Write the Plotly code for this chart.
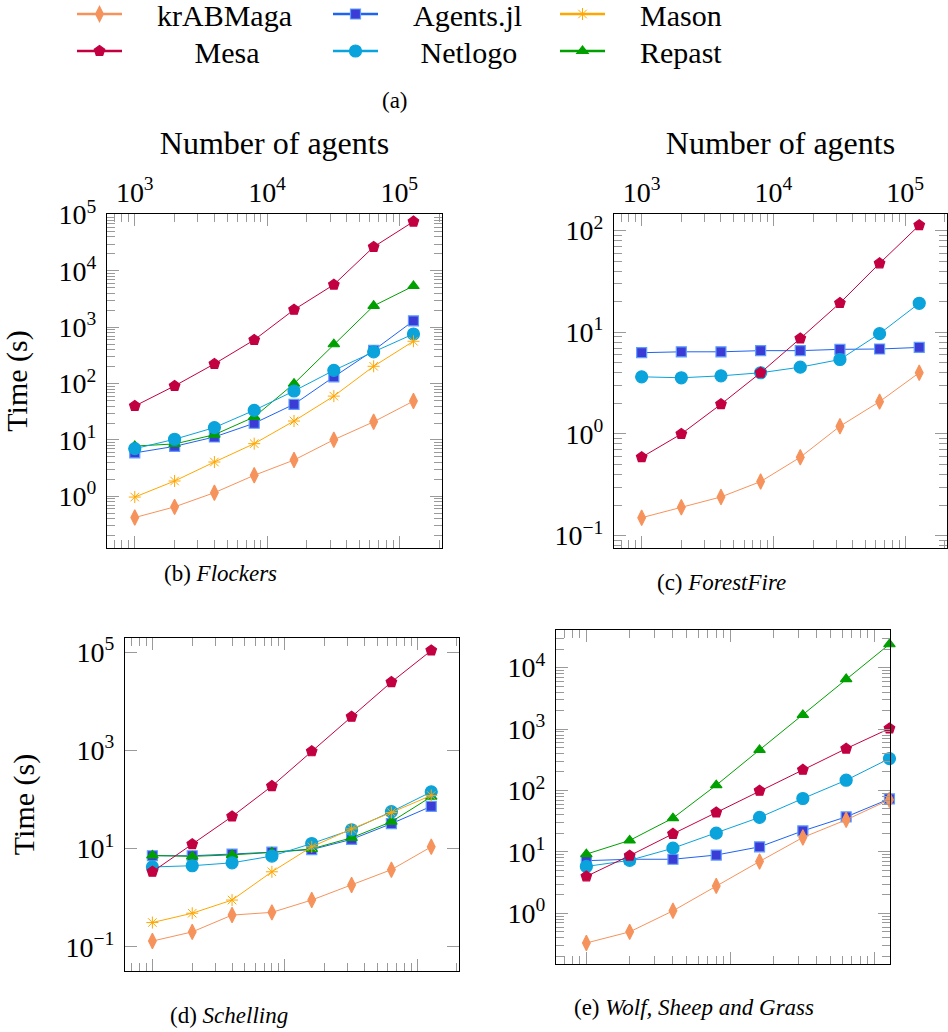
import math
import plotly.graph_objects as go

W, H = 948, 1032
FONT = "Liberation Serif, Times New Roman, serif"

# ---------------- data ----------------
N_AGENTS = [1000, 2000, 4000, 8000, 16000, 32000, 64000, 128000]

FLOCKERS_KRABMAGA = [0.42, 0.65, 1.16, 2.36, 4.4, 10.1, 21, 49]
FLOCKERS_MESA = [40, 91, 224, 596, 2050, 5700, 26700, 75000]
FLOCKERS_AGENTSJL = [5.9, 7.7, 11.3, 19.8, 43, 132, 390, 1300]
FLOCKERS_NETLOGO = [7.0, 10.3, 16.6, 33.6, 74, 172, 366, 760]
FLOCKERS_MASON = [0.97, 1.87, 4.06, 8.6, 21.7, 60, 203, 565]
FLOCKERS_REPAST = [7.8, 8.5, 12.4, 25.6, 100, 500, 2400, 5400]

FOREST_KRABMAGA = [0.15, 0.19, 0.24, 0.34, 0.59, 1.19, 2.08, 4.0]
FOREST_MESA = [0.59, 1.0, 1.96, 4.0, 8.7, 19.4, 47.7, 113]
FOREST_AGENTSJL = [6.3, 6.43, 6.43, 6.6, 6.6, 6.8, 6.85, 7.1]
FOREST_NETLOGO = [3.65, 3.57, 3.73, 4.0, 4.54, 5.4, 9.7, 19.3]

SCHELLING_KRABMAGA = [0.13, 0.20, 0.44, 0.50, 0.89, 1.8, 3.7, 10.8]
SCHELLING_MESA = [3.35, 12.2, 44.7, 186, 950, 4800, 24400, 107000]
SCHELLING_AGENTSJL = [7.1, 7.1, 7.7, 8.4, 9.5, 15.3, 32, 72]
SCHELLING_NETLOGO = [4.2, 4.45, 5.1, 7.0, 12.6, 24, 56, 142]
SCHELLING_MASON = [0.31, 0.48, 0.89, 3.35, 10.8, 25, 54, 120]
SCHELLING_REPAST = [7.2, 6.9, 7.4, 8.3, 9.8, 16.5, 35, 113]

WSG_KRABMAGA = [0.33, 0.50, 1.1, 2.8, 7.0, 17.2, 33.3, 70.6]
WSG_MESA = [4.0, 8.7, 19.7, 43.9, 99, 217, 480, 1020]
WSG_AGENTSJL = [7.2, 7.6, 7.6, 8.9, 12.1, 22, 37.2, 73]
WSG_NETLOGO = [5.8, 7.3, 11.5, 20.2, 36.5, 74, 147, 331]
WSG_REPAST = [9.2, 15.4, 35.5, 122, 458, 1700, 6500, 24000]

X_TICKS = [1e3, 1e4, 1e5]

NB = "\u00a0"
# legend entries: name, label (padded so the text sits centred in its cell), legend id, cell position (px)
LEGEND_ENTRIES = [
    ("krABMaga", NB * 4 + "krABMaga", "legend", 72, 18),
    ("Agents.jl", NB * 4 + "Agents.jl", "legend2", 328, 18),
    ("Mason", NB * 4 + "Mason", "legend3", 555, 18),
    ("Mesa", NB * 9 + "Mesa", "legend4", 72, 55),
    ("Netlogo", NB * 5 + "Netlogo", "legend5", 328, 55),
    ("Repast", NB * 4 + "Repast", "legend6", 555, 55),
]
DRAW_ORDER = ["Agents.jl", "Repast", "Netlogo", "Mason", "Mesa", "krABMaga"]

# ---------------- styles ----------------
STYLE = {
    "krABMaga": dict(color="#F6935C", symbol="diamond-tall", size=11, edge="#F6935C"),
    "Mesa": dict(color="#C20041", symbol="pentagon", size=11, edge="#C20041"),
    "Agents.jl": dict(color="#1F63F2", symbol="square", size=10, fill="#3B3BD6", edge="#5E9EFF"),
    "Netlogo": dict(color="#0AA3DB", symbol="circle", size=12, edge="#0AA3DB"),
    "Mason": dict(color="#FFA700", symbol="asterisk-open", size=10, edge="#FFA700"),
    "Repast": dict(color="#00A000", symbol="triangle-up", size=10, edge="#00A000"),
}

PANELS = [
    dict(data={"krABMaga": FLOCKERS_KRABMAGA, "Mesa": FLOCKERS_MESA, "Agents.jl": FLOCKERS_AGENTSJL,
               "Netlogo": FLOCKERS_NETLOGO, "Mason": FLOCKERS_MASON, "Repast": FLOCKERS_REPAST},
         xpx=(107, 442), ypx=(214, 548), xr=(2.79, 5.323), yr=(-0.917, 5.01),
         yticks=[1, 10, 100, 1e3, 1e4, 1e5], yminor=True, toplabels=True, ytitle=True,
         caption="(b) <i>Flockers</i>", cap=(220, 573)),
    dict(data={"krABMaga": FOREST_KRABMAGA, "Mesa": FOREST_MESA, "Agents.jl": FOREST_AGENTSJL,
               "Netlogo": FOREST_NETLOGO},
         xpx=(614, 947), ypx=(214, 548), xr=(2.79, 5.318), yr=(-1.122, 2.164),
         yticks=[0.1, 1, 10, 100], yminor=True, toplabels=True, ytitle=False,
         caption="(c) <i>ForestFire</i>", cap=(721, 582)),
    dict(data={"krABMaga": SCHELLING_KRABMAGA, "Mesa": SCHELLING_MESA, "Agents.jl": SCHELLING_AGENTSJL,
               "Netlogo": SCHELLING_NETLOGO, "Mason": SCHELLING_MASON, "Repast": SCHELLING_REPAST},
         xpx=(125, 459), ypx=(638, 971), xr=(2.793, 5.317), yr=(-1.495, 5.285),
         yticks=[0.1, 10, 1e3, 1e5], yminor=False, toplabels=False, ytitle=True,
         caption="(d) <i>Schelling</i>", cap=(229, 1015)),
    dict(data={"krABMaga": WSG_KRABMAGA, "Mesa": WSG_MESA, "Agents.jl": WSG_AGENTSJL,
               "Netlogo": WSG_NETLOGO, "Repast": WSG_REPAST},
         xpx=(556, 890), ypx=(630, 964), xr=(2.789, 5.111), yr=(-0.824, 4.612),
         yticks=[1, 10, 100, 1e3, 1e4], yminor=True, toplabels=False, ytitle=False,
         caption="(e) <i>Wolf, Sheep and Grass</i>", cap=(694, 1007)),
]


def pow_label(v):
    p = int(round(math.log10(v)))
    return "10<sup>" + ("\u2212" + str(-p) if p < 0 else str(p)) + "</sup>"


def minor_vals(lo, hi):
    vals = []
    for n in range(int(math.floor(lo)) - 1, int(math.ceil(hi)) + 1):
        for k in range(2, 10):
            vals.append(k * 10 ** n)
    return vals


TICKC = "#9a9a9a"
fig = go.Figure()

layout = dict(width=W, height=H, margin=dict(l=0, r=0, t=0, b=0, autoexpand=False),
              paper_bgcolor="white", plot_bgcolor="white",
              font=dict(family=FONT, color="black", size=28))
annotations = []


def marker_of(name):
    s = STYLE[name]
    return dict(symbol=s["symbol"], size=s["size"], color=s.get("fill", s["color"]),
                line=dict(color=s["edge"], width=1.2 if name != "Mason" else 1))


for i, p in enumerate(PANELS):
    idx = "" if i == 0 else str(i + 1)
    xa, ya = "x" + idx, "y" + idx
    for name in DRAW_ORDER:
        if name not in p["data"]:
            continue
        s = STYLE[name]
        fig.add_trace(go.Scatter(
            x=N_AGENTS, y=p["data"][name], mode="lines+markers", name=name, showlegend=False,
            xaxis=xa, yaxis=ya, cliponaxis=False,
            line=dict(color=s["color"], width=1),
            marker=marker_of(name),
        ))
    x0, x1 = p["xpx"]
    yt, yb = p["ypx"]
    axis_common = dict(type="log", showline=True, linecolor="black", linewidth=1, mirror="allticks",
                       ticks="inside", ticklen=12, tickwidth=1, tickcolor=TICKC,
                       showgrid=False, zeroline=False, automargin=False,
                       tickfont=dict(family=FONT, size=28, color="black"))
    xcfg = dict(axis_common, domain=[x0 / W, x1 / W], range=list(p["xr"]), anchor=ya,
                side="top" if p["toplabels"] else "bottom",
                tickmode="array", tickvals=X_TICKS, ticktext=[pow_label(v) for v in X_TICKS],
                showticklabels=p["toplabels"], ticklabelstandoff=0,
                minor=dict(tickmode="array", tickvals=minor_vals(*p["xr"]), ticks="inside",
                           ticklen=8, tickwidth=1, tickcolor=TICKC, showgrid=False))
    if p["toplabels"]:
        xcfg["title"] = dict(text="Number of agents", font=dict(family=FONT, size=32), standoff=8)
    ycfg = dict(axis_common, domain=[1 - yb / H, 1 - yt / H], range=list(p["yr"]), anchor=xa,
                tickmode="array", tickvals=p["yticks"], ticktext=[pow_label(v) for v in p["yticks"]],
                ticklabelstandoff=4)
    if p["yminor"]:
        ycfg["minor"] = dict(tickmode="array", tickvals=minor_vals(*p["yr"]), ticks="inside",
                             ticklen=8, tickwidth=1, tickcolor=TICKC, showgrid=False)
    if p["ytitle"]:
        ycfg["title"] = dict(text="Time (s)", font=dict(family=FONT, size=30), standoff=22)
    layout["xaxis" + idx] = xcfg
    layout["yaxis" + idx] = ycfg
    annotations.append(dict(text=p["caption"], x=p["cap"][0] / W, y=1 - p["cap"][1] / H,
                            xref="paper", yref="paper", showarrow=False, xanchor="center", yanchor="middle",
                            font=dict(family=FONT, size=23, color="black")))

annotations.append(dict(text="(a)", x=395 / W, y=1 - 101 / H, xref="paper", yref="paper", showarrow=False,
                        xanchor="center", yanchor="middle", font=dict(family=FONT, size=23, color="black")))

# legend-only traces: one small legend per cell of the 3 x 2 grid
for name, label, lg, lx, ly in LEGEND_ENTRIES:
    s = STYLE[name]
    fig.add_trace(go.Scatter(
        x=[None], y=[None], mode="lines+markers", name=label, legend=lg,
        xaxis="x", yaxis="y",
        line=dict(color=s["color"], width=2.5),
        marker=marker_of(name),
    ))
    layout[lg] = dict(x=lx / W, y=1 - (ly - 30) / H, xanchor="left", yanchor="top",
                      orientation="v", itemwidth=45, bgcolor="rgba(0,0,0,0)", borderwidth=0,
                      font=dict(family=FONT, size=30, color="black"),
                      itemclick=False, itemdoubleclick=False)

layout["annotations"] = annotations
fig.update_layout(**layout)
fig.write_html("out.html")
